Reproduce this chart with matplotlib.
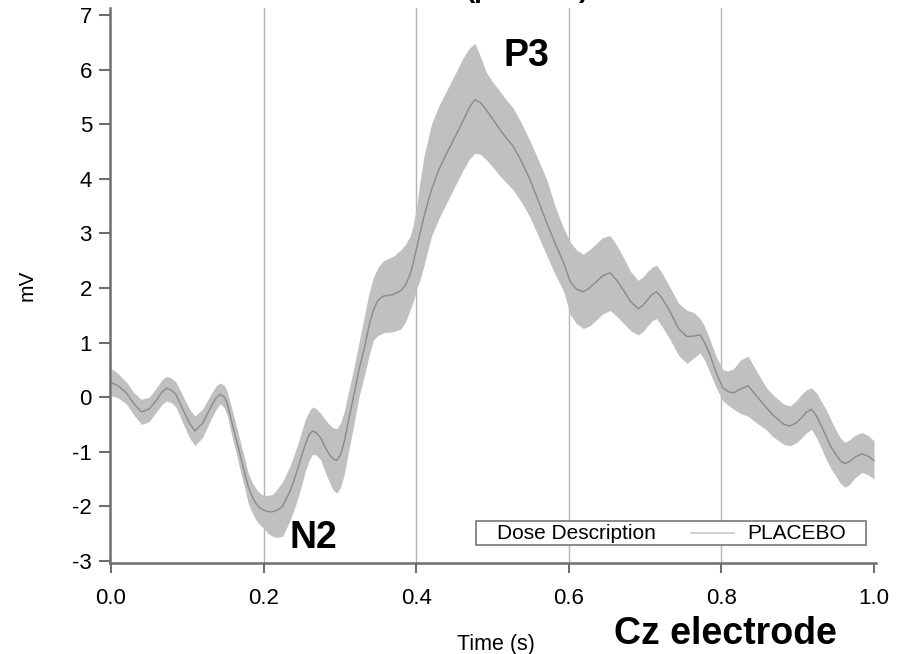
import numpy as np
import matplotlib
matplotlib.use("Agg")
import matplotlib.pyplot as plt
from matplotlib.offsetbox import AnchoredOffsetbox, HPacker, TextArea, DrawingArea
from matplotlib.lines import Line2D

plt.rcParams['font.family'] = ['Liberation Sans', 'DejaVu Sans']
plt.rcParams['axes.unicode_minus'] = False

# ERP at Cz, placebo: mean and upper/lower edge of the shaded band (mV)
time_s = [0.000, 0.005, 0.010, 0.020, 0.030, 0.040, 0.050, 0.060, 0.067, 0.073,
          0.079, 0.085, 0.095, 0.103, 0.110, 0.120, 0.132, 0.138, 0.143, 0.148,
          0.152, 0.160, 0.165, 0.170, 0.175, 0.180, 0.185, 0.190, 0.195, 0.200,
          0.206, 0.212, 0.218, 0.225, 0.235, 0.240, 0.245, 0.250, 0.255, 0.260,
          0.264, 0.269, 0.275, 0.280, 0.286, 0.291, 0.296, 0.301, 0.306, 0.311,
          0.317, 0.321, 0.325, 0.333, 0.338, 0.344, 0.350, 0.357, 0.370, 0.380,
          0.386, 0.392, 0.396, 0.400, 0.405, 0.410, 0.420, 0.430, 0.440, 0.452,
          0.462, 0.470, 0.477, 0.484, 0.492, 0.500, 0.510, 0.518, 0.527, 0.538,
          0.549, 0.560, 0.571, 0.582, 0.593, 0.602, 0.610, 0.619, 0.627, 0.635,
          0.644, 0.654, 0.663, 0.672, 0.681, 0.691, 0.697, 0.703, 0.709, 0.715,
          0.722, 0.733, 0.744, 0.755, 0.764, 0.772, 0.778, 0.785, 0.793, 0.802,
          0.809, 0.816, 0.825, 0.835, 0.846, 0.859, 0.867, 0.875, 0.882, 0.890,
          0.898, 0.905, 0.911, 0.918, 0.925, 0.938, 0.944, 0.950, 0.956, 0.962,
          0.968, 0.975, 0.984, 0.992, 1.000]
mean_mv = [0.26, 0.24, 0.20, 0.08, -0.12, -0.27, -0.22, -0.05, 0.10, 0.16,
           0.13, 0.05, -0.25, -0.48, -0.62, -0.48, -0.15, -0.01, 0.05, 0.01,
           -0.10, -0.55, -0.82, -1.10, -1.38, -1.65, -1.82, -1.95, -2.03, -2.07,
           -2.10, -2.10, -2.07, -2.00, -1.71, -1.52, -1.30, -1.07, -0.85, -0.68,
           -0.62, -0.65, -0.75, -0.90, -1.05, -1.13, -1.16, -1.05, -0.80, -0.45,
           -0.05, 0.22, 0.50, 0.95, 1.30, 1.60, 1.78, 1.85, 1.88, 1.95,
           2.05, 2.25, 2.45, 2.70, 3.00, 3.30, 3.80, 4.18, 4.47, 4.80,
           5.08, 5.32, 5.45, 5.40, 5.26, 5.10, 4.90, 4.75, 4.60, 4.32,
           3.99, 3.60, 3.20, 2.82, 2.47, 2.11, 1.98, 1.93, 2.00, 2.10,
           2.22, 2.28, 2.14, 1.95, 1.75, 1.62, 1.68, 1.78, 1.88, 1.93,
           1.82, 1.56, 1.25, 1.11, 1.12, 1.14, 1.00, 0.78, 0.45, 0.17,
           0.10, 0.08, 0.15, 0.21, 0.02, -0.19, -0.32, -0.42, -0.50, -0.53,
           -0.47, -0.38, -0.28, -0.22, -0.35, -0.74, -0.92, -1.05, -1.17, -1.22,
           -1.18, -1.10, -1.04, -1.08, -1.16]
upper_mv = [0.52, 0.48, 0.42, 0.28, 0.08, -0.04, 0.00, 0.18, 0.32, 0.38,
            0.35, 0.28, 0.00, -0.22, -0.35, -0.22, 0.08, 0.21, 0.26, 0.22,
            0.12, -0.30, -0.57, -0.85, -1.12, -1.40, -1.56, -1.68, -1.76, -1.80,
            -1.80, -1.78, -1.68, -1.55, -1.25, -1.05, -0.85, -0.62, -0.40, -0.25,
            -0.18, -0.21, -0.30, -0.40, -0.50, -0.56, -0.58, -0.47, -0.25, 0.08,
            0.45, 0.72, 1.00, 1.55, 1.90, 2.20, 2.38, 2.50, 2.58, 2.70,
            2.80, 2.95, 3.15, 3.45, 3.95, 4.40, 5.00, 5.35, 5.62, 5.95,
            6.23, 6.40, 6.48, 6.25, 5.95, 5.78, 5.60, 5.45, 5.30, 5.02,
            4.70, 4.35, 3.99, 3.50, 3.10, 2.84, 2.70, 2.62, 2.70, 2.80,
            2.92, 2.96, 2.78, 2.55, 2.30, 2.14, 2.20, 2.30, 2.38, 2.42,
            2.28, 2.00, 1.72, 1.59, 1.55, 1.44, 1.30, 1.05, 0.75, 0.50,
            0.48, 0.52, 0.68, 0.75, 0.48, 0.17, 0.05, -0.05, -0.13, -0.16,
            -0.07, 0.05, 0.13, 0.17, 0.07, -0.25, -0.43, -0.60, -0.75, -0.83,
            -0.78, -0.70, -0.65, -0.70, -0.80]
lower_mv = [0.02, 0.01, -0.02, -0.12, -0.33, -0.50, -0.45, -0.26, -0.13, -0.07,
            -0.10, -0.18, -0.50, -0.75, -0.89, -0.74, -0.38, -0.22, -0.12, -0.19,
            -0.32, -0.80, -1.08, -1.38, -1.66, -1.95, -2.12, -2.25, -2.34, -2.40,
            -2.50, -2.55, -2.57, -2.55, -2.25, -2.06, -1.85, -1.60, -1.35, -1.15,
            -1.05, -1.06, -1.15, -1.35, -1.55, -1.70, -1.76, -1.65, -1.40, -1.02,
            -0.60, -0.30, 0.00, 0.45, 0.75, 1.05, 1.13, 1.18, 1.20, 1.25,
            1.38, 1.60, 1.75, 1.95, 2.15, 2.40, 2.95, 3.28, 3.56, 3.90,
            4.17, 4.37, 4.47, 4.45, 4.35, 4.22, 4.05, 3.93, 3.80, 3.57,
            3.30, 2.95, 2.60, 2.25, 1.95, 1.51, 1.35, 1.26, 1.30, 1.40,
            1.52, 1.59, 1.48, 1.35, 1.22, 1.14, 1.20, 1.30, 1.40, 1.44,
            1.30, 1.05, 0.76, 0.62, 0.72, 0.81, 0.68, 0.45, 0.18, -0.07,
            -0.15, -0.22, -0.30, -0.35, -0.47, -0.60, -0.72, -0.80, -0.87, -0.89,
            -0.84, -0.75, -0.66, -0.59, -0.75, -1.16, -1.32, -1.45, -1.58, -1.65,
            -1.60, -1.48, -1.38, -1.42, -1.50]

x_ticks = [0.0, 0.2, 0.4, 0.6, 0.8, 1.0]
x_labels = ['0.0', '0.2', '0.4', '0.6', '0.8', '1.0']
y_ticks = [-3, -2, -1, 0, 1, 2, 3, 4, 5, 6, 7]
grid_x = [0.2, 0.4, 0.6, 0.8]

fig = plt.figure(figsize=(9.02, 6.54), dpi=100)
ax = fig.add_axes([0.12195, 0.1391, 0.8492, 0.8486])

for xv in grid_x:
    ax.axvline(xv, color='#b4b4b4', lw=1.0, zorder=0)

ax.fill_between(time_s, lower_mv, upper_mv, color='#c0c0c0', lw=0, zorder=1)
ax.plot(time_s, mean_mv, color='#8a8a8a', lw=1.0, zorder=2)

ax.set_xlim(-0.0013, 1.0026)
ax.set_ylim(-3.04, 7.13)
ax.set_xticks(x_ticks)
ax.set_xticklabels(x_labels)
ax.set_yticks(y_ticks)

for s in ['top', 'right']:
    ax.spines[s].set_visible(False)
for s in ['left', 'bottom']:
    ax.spines[s].set_color('#6e6e6e')
    ax.spines[s].set_linewidth(1.8)
ax.tick_params(axis='both', colors='#6e6e6e', labelcolor='black', labelsize=16,
               width=1.5, direction='out')
ax.tick_params(axis='y', length=8, pad=5)
ax.tick_params(axis='x', length=7, pad=11)

ax.set_xlabel('Time (s)', fontsize=15.5)
ax.xaxis.label.set_va('baseline')
ax.xaxis.set_label_coords(0.504, -0.157)
ax.set_ylabel('mV', fontsize=15)
ax.yaxis.set_label_coords(-0.0957, 0.501)

ax.text(0.545, 6.25, 'P3', fontsize=27, fontweight='bold', ha='center', va='center')
ax.text(0.265, -2.59, 'N2', fontsize=27, fontweight='bold', ha='center', va='center')
fig.text(0.804, 0.016, 'Cz electrode', fontsize=27, fontweight='bold', ha='center', va='baseline')
fig.text(0.585, 1.004, '(placebo)', fontsize=20, fontweight='bold', ha='center', va='baseline')

# legend: "Dose Description  ——  PLACEBO" on one row
leg_size = 15
line_box = DrawingArea(31, 10)
line_box.add_artist(Line2D([0, 31], [5, 5], color='#c8c8c8', lw=1.2))
row = HPacker(children=[DrawingArea(4, 1),
                        TextArea('Dose Description', textprops=dict(size=leg_size)),
                        DrawingArea(6.5, 1), line_box,
                        TextArea('PLACEBO', textprops=dict(size=leg_size)),
                        DrawingArea(3, 1)],
              align='center', pad=0, sep=9.4)
anch = AnchoredOffsetbox(loc='lower right', child=row, pad=0.12, borderpad=0,
                         frameon=True, prop=dict(size=leg_size),
                         bbox_to_anchor=(0.987, 0.0324), bbox_transform=ax.transAxes)
anch.patch.set_boxstyle('square', pad=0)
anch.patch.set_edgecolor('#777777')
anch.patch.set_linewidth(1.2)
ax.add_artist(anch)

fig.savefig('out.png', dpi=100)
